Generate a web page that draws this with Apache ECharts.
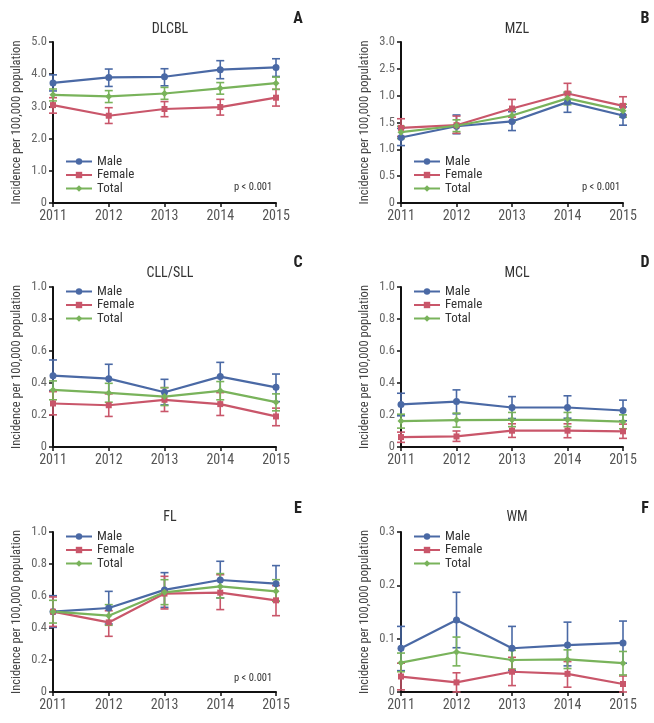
<!DOCTYPE html>
<html>
<head>
<meta charset="utf-8">
<script src="https://cdn.jsdelivr.net/npm/echarts@6/dist/echarts.min.js"></script>
<style>
html,body{margin:0;padding:0;background:#fff;}
#c{width:654px;height:723px;}
</style>
</head>
<body>
<div id="c"></div>
<script>
const years = ['2011', '2012', '2013', '2014', '2015'];
const seriesNames = ['Male', 'Female', 'Total'];
const panelTitles = ['DLCBL', 'MZL', 'CLL/SLL', 'MCL', 'FL', 'WM'];
const panelLetters = ['A', 'B', 'C', 'D', 'E', 'F'];
const pValueText = 'p < 0.001';
const yAxisName = 'Incidence per 100,000 population';

// y tick labels (as printed in the reference)
const ticksDLCBL = ['0', '1.0', '2.0', '3.0', '4.0', '5.0'];
const ticksMZL = ['0', '0.5', '1.0', '1.5', '1.0', '2.5', '3.0'];
const ticksCLL = ['0', '0.2', '0.4', '0.6', '0.8', '1.0'];
const ticksMCL = ['0', '0.2', '0.4', '0.6', '0.8', '1.0'];
const ticksFL = ['0', '0.2', '0.4', '0.6', '0.8', '1.0'];
const ticksWM = ['0', '0.1', '0.2', '0.3'];

// DLCBL
const dlcblMale = [3.73, 3.90, 3.92, 4.14, 4.21];
const dlcblMaleLo = [3.48, 3.62, 3.64, 3.86, 3.93];
const dlcblMaleHi = [3.98, 4.16, 4.17, 4.42, 4.48];
const dlcblFemale = [3.04, 2.71, 2.92, 2.98, 3.27];
const dlcblFemaleLo = [2.79, 2.47, 2.68, 2.73, 3.01];
const dlcblFemaleHi = [3.27, 2.96, 3.15, 3.22, 3.53];
const dlcblTotal = [3.36, 3.31, 3.40, 3.56, 3.72];
const dlcblTotalLo = [3.17, 3.12, 3.22, 3.38, 3.53];
const dlcblTotalHi = [3.54, 3.49, 3.59, 3.74, 3.91];

// MZL
const mzlMale = [1.22, 1.43, 1.52, 1.88, 1.63];
const mzlMaleLo = [1.07, 1.29, 1.35, 1.69, 1.45];
const mzlMaleHi = [1.39, 1.64, 1.70, 2.05, 1.79];
const mzlFemale = [1.40, 1.45, 1.76, 2.04, 1.81];
const mzlFemaleLo = [1.24, 1.30, 1.60, 1.86, 1.64];
const mzlFemaleHi = [1.57, 1.62, 1.93, 2.23, 1.98];
const mzlTotal = [1.32, 1.44, 1.63, 1.95, 1.72];
const mzlTotalLo = [1.20, 1.33, 1.51, 1.83, 1.60];
const mzlTotalHi = [1.43, 1.55, 1.75, 2.07, 1.84];

// CLL/SLL
const cllMale = [0.446, 0.427, 0.342, 0.440, 0.373];
const cllMaleLo = [0.353, 0.336, 0.263, 0.346, 0.284];
const cllMaleHi = [0.544, 0.517, 0.423, 0.529, 0.456];
const cllFemale = [0.272, 0.261, 0.295, 0.268, 0.191];
const cllFemaleLo = [0.201, 0.191, 0.222, 0.197, 0.133];
const cllFemaleHi = [0.346, 0.332, 0.371, 0.340, 0.243];
const cllTotal = [0.357, 0.338, 0.315, 0.351, 0.280];
const cllTotalLo = [0.295, 0.280, 0.259, 0.295, 0.226];
const cllTotalHi = [0.413, 0.398, 0.371, 0.409, 0.332];

// MCL
const mclMale = [0.266, 0.284, 0.247, 0.247, 0.228];
const mclMaleLo = [0.195, 0.207, 0.178, 0.180, 0.164];
const mclMaleHi = [0.336, 0.357, 0.315, 0.320, 0.293];
const mclFemale = [0.062, 0.066, 0.102, 0.102, 0.098];
const mclFemaleLo = [0.029, 0.035, 0.060, 0.058, 0.054];
const mclFemaleHi = [0.093, 0.100, 0.145, 0.145, 0.143];
const mclTotal = [0.162, 0.168, 0.170, 0.170, 0.158];
const mclTotalLo = [0.118, 0.124, 0.127, 0.127, 0.114];
const mclTotalHi = [0.205, 0.212, 0.216, 0.216, 0.201];

// FL
const flMale = [0.502, 0.525, 0.638, 0.700, 0.677];
const flMaleLo = [0.404, 0.425, 0.529, 0.588, 0.567];
const flMaleHi = [0.602, 0.629, 0.746, 0.817, 0.790];
const flFemale = [0.502, 0.435, 0.615, 0.621, 0.573];
const flFemaleLo = [0.410, 0.348, 0.519, 0.515, 0.477];
const flFemaleHi = [0.594, 0.508, 0.723, 0.733, 0.665];
const flTotal = [0.502, 0.477, 0.623, 0.660, 0.629];
const flTotalLo = [0.431, 0.417, 0.546, 0.588, 0.567];
const flTotalHi = [0.573, 0.546, 0.702, 0.740, 0.702];

// WM
const wmMale = [0.082, 0.135, 0.082, 0.088, 0.092];
const wmMaleLo = [0.040, 0.083, 0.040, 0.049, 0.054];
const wmMaleHi = [0.123, 0.187, 0.123, 0.131, 0.133];
const wmFemale = [0.029, 0.018, 0.038, 0.034, 0.015];
const wmFemaleLo = [0.004, 0.000, 0.012, 0.009, 0.000];
const wmFemaleHi = [0.054, 0.036, 0.065, 0.057, 0.030];
const wmTotal = [0.055, 0.075, 0.060, 0.061, 0.054];
const wmTotalLo = [0.038, 0.049, 0.043, 0.044, 0.032];
const wmTotalHi = [0.073, 0.103, 0.078, 0.079, 0.076];

// ---------- assembly ----------
const panelData = [
  { ticks: ticksDLCBL, max: 5, interval: 1, s: [[dlcblMale, dlcblMaleLo, dlcblMaleHi], [dlcblFemale, dlcblFemaleLo, dlcblFemaleHi], [dlcblTotal, dlcblTotalLo, dlcblTotalHi]] },
  { ticks: ticksMZL, max: 3, interval: 0.5, s: [[mzlMale, mzlMaleLo, mzlMaleHi], [mzlFemale, mzlFemaleLo, mzlFemaleHi], [mzlTotal, mzlTotalLo, mzlTotalHi]] },
  { ticks: ticksCLL, max: 1, interval: 0.2, s: [[cllMale, cllMaleLo, cllMaleHi], [cllFemale, cllFemaleLo, cllFemaleHi], [cllTotal, cllTotalLo, cllTotalHi]] },
  { ticks: ticksMCL, max: 1, interval: 0.2, s: [[mclMale, mclMaleLo, mclMaleHi], [mclFemale, mclFemaleLo, mclFemaleHi], [mclTotal, mclTotalLo, mclTotalHi]] },
  { ticks: ticksFL, max: 1, interval: 0.2, s: [[flMale, flMaleLo, flMaleHi], [flFemale, flFemaleLo, flFemaleHi], [flTotal, flTotalLo, flTotalHi]] },
  { ticks: ticksWM, max: 0.3, interval: 0.1, s: [[wmMale, wmMaleLo, wmMaleHi], [wmFemale, wmFemaleLo, wmFemaleHi], [wmTotal, wmTotalLo, wmTotalHi]] }
];

const FONT = "'Liberation Sans Narrow', 'Roboto Condensed', 'Liberation Sans', Arial, sans-serif";
const colors = ['#4a69a5', '#c9566a', '#79b35b'];
const symbols = ['circle', 'rect', 'diamond'];
const symbolSizes = [7, 6, 7];

const layout = [
  { left: 53, top: 42, width: 223, height: 161, titleX: 165, titleY: 17, letterX: 293, letterY: 6, legX: 65, legY: 155, pX: 252, pY: 182 },
  { left: 401, top: 42, width: 222, height: 161, titleX: 512, titleY: 17, letterX: 640, letterY: 6, legX: 413, legY: 155, pX: 600, pY: 182 },
  { left: 53, top: 287, width: 223, height: 160, titleX: 165, titleY: 261, letterX: 293, letterY: 250, legX: 65, legY: 285 },
  { left: 401, top: 287, width: 222, height: 160, titleX: 512, titleY: 261, letterX: 640, letterY: 250, legX: 413, legY: 285 },
  { left: 53, top: 532, width: 223, height: 160, titleX: 165, titleY: 505, letterX: 293, letterY: 496, legX: 65, legY: 530, pX: 252, pY: 673 },
  { left: 401, top: 532, width: 222, height: 160, titleX: 512, titleY: 505, letterX: 640, letterY: 496, legX: 413, legY: 530 }
];
const showP = [true, true, false, false, true, false];

const grids = [], xAxes = [], yAxes = [], series = [], titles = [], legends = [], graphics = [];

function errRender(color) {
  return function (params, api) {
    const x = api.value(0);
    const pLo = api.coord([x, api.value(1)]);
    const pHi = api.coord([x, api.value(2)]);
    const cw = 4;
    const st = { stroke: color, lineWidth: 1.6 };
    return {
      type: 'group',
      children: [
        { type: 'line', shape: { x1: pLo[0], y1: pLo[1], x2: pHi[0], y2: pHi[1] }, style: st },
        { type: 'line', shape: { x1: pLo[0] - cw, y1: pLo[1], x2: pLo[0] + cw, y2: pLo[1] }, style: st },
        { type: 'line', shape: { x1: pHi[0] - cw, y1: pHi[1], x2: pHi[0] + cw, y2: pHi[1] }, style: st }
      ]
    };
  };
}

panelData.forEach((pd, i) => {
  const L = layout[i];
  grids.push({ left: L.left, top: L.top, width: L.width, height: L.height, containLabel: false });
  xAxes.push({
    type: 'category', gridIndex: i, data: years, boundaryGap: false,
    axisLine: { lineStyle: { color: '#111', width: 2 } },
    axisTick: { show: true, length: 4, lineStyle: { color: '#111', width: 1.5 } },
    axisLabel: { color: '#555', fontSize: 14, fontFamily: FONT, margin: 6 },
    splitLine: { show: false }
  });
  const ticks = pd.ticks, itv = pd.interval;
  yAxes.push({
    type: 'value', gridIndex: i, min: 0, max: pd.max, interval: itv,
    name: yAxisName, nameLocation: 'middle', nameRotate: 90, nameGap: 30,
    nameTextStyle: { color: '#444', fontSize: 12.5, fontFamily: FONT },
    axisLine: { show: true, lineStyle: { color: '#111', width: 2 } },
    axisTick: { show: true, length: 4, lineStyle: { color: '#111', width: 1.5 } },
    axisLabel: { color: '#666', fontSize: 12.5, fontFamily: FONT, margin: 6,
      formatter: function (v) { return ticks[Math.round(v / itv)]; } },
    splitLine: { show: false }
  });
  titles.push({ text: panelTitles[i], left: L.titleX, top: L.titleY, textAlign: 'center',
    textStyle: { fontSize: 14, fontWeight: 'normal', color: '#333', fontFamily: FONT } });
  titles.push({ text: panelLetters[i], left: L.letterX, top: L.letterY, textAlign: 'center',
    textStyle: { fontSize: 16, fontWeight: 'bold', color: '#222', fontFamily: FONT } });
  legends.push({
    data: seriesNames, orient: 'vertical', left: L.legX, top: L.legY,
    itemWidth: 26, itemHeight: 8, itemGap: 0.5, padding: 0,
    textStyle: { fontSize: 13, color: '#333', fontFamily: FONT, lineHeight: 12 }
  });
  if (showP[i]) {
    graphics.push({ type: 'text', left: L.pX - 18, top: L.pY,
      style: { text: pValueText, fill: '#333', font: '10.5px ' + FONT } });
  }
  pd.s.forEach((trip, k) => {
    const vals = trip[0], lo = trip[1], hi = trip[2];
    series.push({
      type: 'custom', name: seriesNames[k] + ' err', xAxisIndex: i, yAxisIndex: i,
      renderItem: errRender(colors[k]), clip: false, silent: true,
      data: vals.map((v, j) => [j, lo[j], hi[j]]), z: 2
    });
    series.push({
      type: 'line', name: seriesNames[k], xAxisIndex: i, yAxisIndex: i,
      data: vals, symbol: symbols[k], symbolSize: symbolSizes[k], showSymbol: true,
      lineStyle: { color: colors[k], width: 2.2 }, itemStyle: { color: colors[k] },
      animation: false, z: 3
    });
  });
});

const chart = echarts.init(document.getElementById('c'));
chart.setOption({
  backgroundColor: '#fff',
  animation: false,
  title: titles,
  legend: legends,
  grid: grids,
  xAxis: xAxes,
  yAxis: yAxes,
  series: series,
  graphic: graphics
});
</script>
</body>
</html>
